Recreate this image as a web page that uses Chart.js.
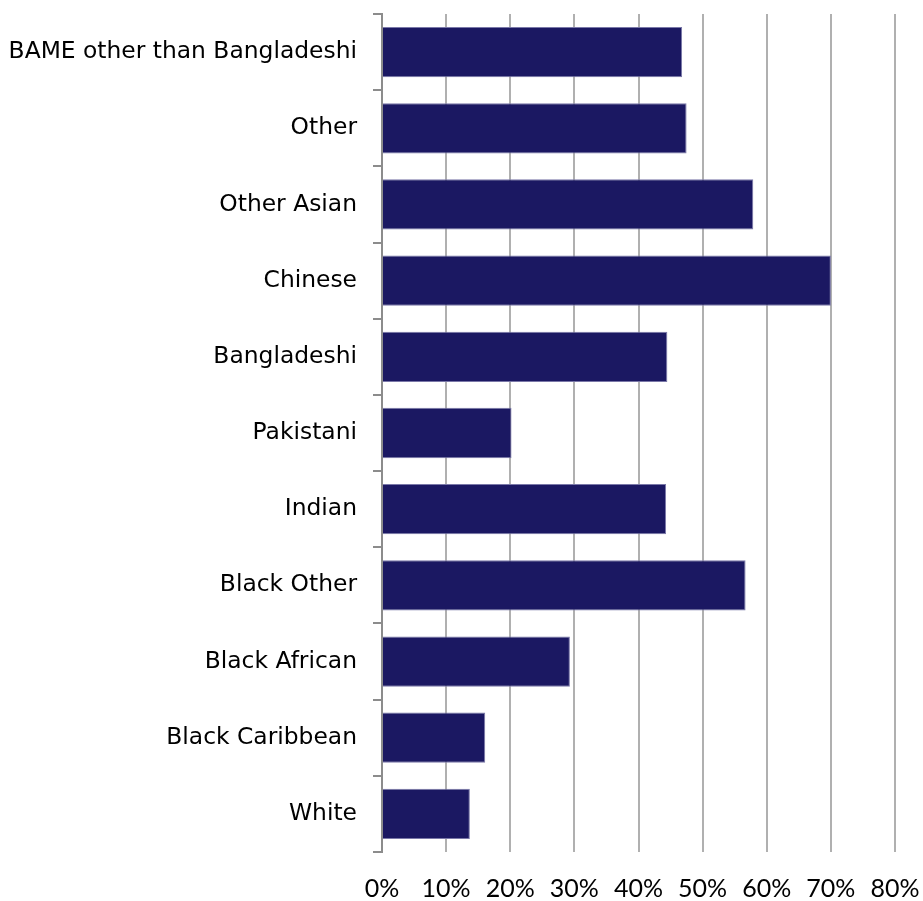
<!DOCTYPE html>
<html>
<head>
<meta charset="utf-8">
<script src="https://cdn.jsdelivr.net/npm/chart.js@4"></script>
<style>
  html, body { margin: 0; padding: 0; background: #fff; }
  #wrap { width: 923px; height: 901px; }
</style>
</head>
<body>
<div id="wrap"><canvas id="ethnicity_chart"></canvas></div>
<script>
const groups = ['BAME other than Bangladeshi', 'Other', 'Other Asian', 'Chinese', 'Bangladeshi',
    'Pakistani', 'Indian', 'Black Other', 'Black African', 'Black Caribbean', 'White'];
const shares = [46.8, 47.5, 57.9, 70.0, 44.5, 20.2, 44.3, 56.7, 29.3, 16.1, 13.7];
const xTicks = [0, 10, 20, 30, 40, 50, 60, 70, 80];

const ctx = document.getElementById('ethnicity_chart').getContext('2d');

new Chart(ctx, {
    type: 'bar',
    data: {
        labels: groups,
        datasets: [{
            label: 'Share',
            data: shares,
            backgroundColor: '#1b1862',
            borderColor: '#7a78a8',
            borderWidth: 1,
            barPercentage: 0.66,
            categoryPercentage: 1
        }]
    },
    options: {
        indexAxis: 'y',
        responsive: true,
        maintainAspectRatio: false,
        animation: false,
        layout: { padding: { top: 14, right: 28, bottom: 0, left: 0 } },
        plugins: {
            legend: { display: false },
            tooltip: { enabled: false }
        },
        scales: {
            x: {
                min: 0,
                max: 80,
                afterBuildTicks: (axis) => { axis.ticks = xTicks.map(v => ({ value: v })); },
                // keep the plot edge fixed, the 80% label may hang over it
                afterFit: (axis) => {
                    axis.height = 49;
                    axis.paddingLeft = 0;
                    axis.paddingRight = 0;
                },
                grid: { color: '#b0b0b0', lineWidth: 2, drawTicks: false },
                border: { display: false },
                ticks: {
                    padding: 24,
                    color: '#000',
                    font: { family: 'Lato', size: 25, lineHeight: 1 },
                    callback: (v) => v + '%'
                }
            },
            y: {
                afterFit: (axis) => {
                    axis.width = 382;
                    axis.paddingTop = 0;
                    axis.paddingBottom = 0;
                },
                grid: { drawOnChartArea: false, color: '#8c8c8c', lineWidth: 2, tickLength: 9, offset: true },
                border: { display: true, color: '#8c8c8c', width: 2 },
                ticks: {
                    padding: 16,
                    color: '#000',
                    font: { family: 'DejaVu Sans', size: 23.4 }
                }
            }
        }
    }
});
</script>
</body>
</html>
